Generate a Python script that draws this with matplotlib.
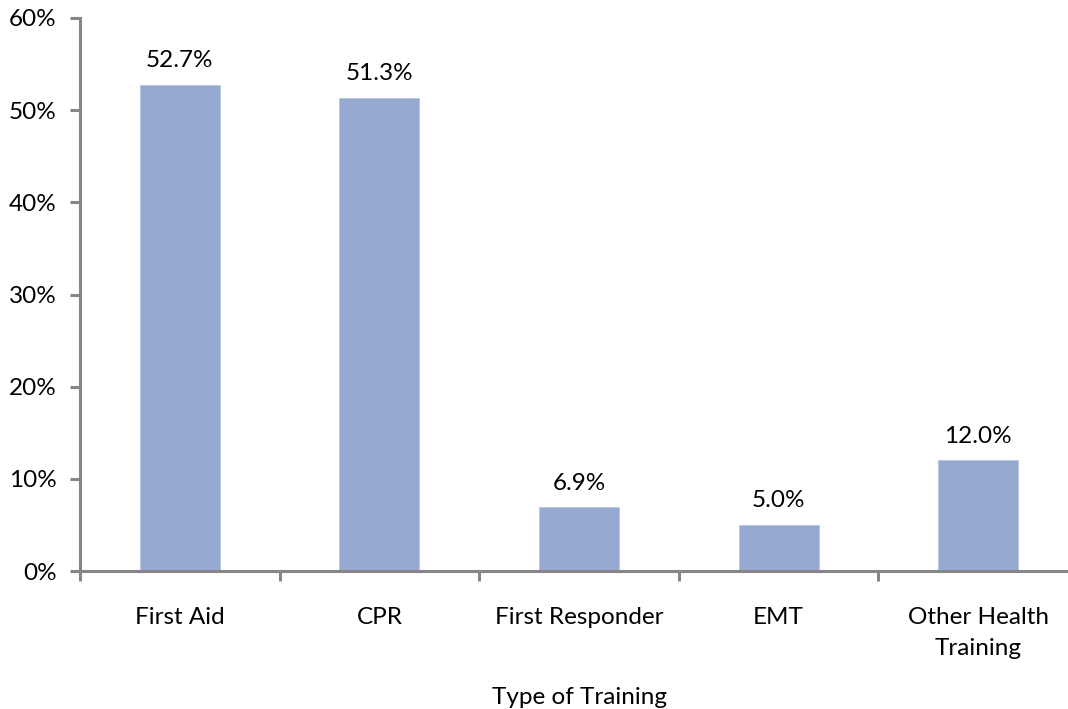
import matplotlib
matplotlib.use("Agg")
import matplotlib.pyplot as plt
from matplotlib.ticker import FuncFormatter, MultipleLocator

categories = ["First Aid", "CPR", "First Responder", "EMT", "Other Health\nTraining"]
values = [52.7, 51.3, 6.9, 5.0, 12.0]
value_labels = ["52.7%", "51.3%", "6.9%", "5.0%", "12.0%"]

plt.rcParams["font.family"] = ["Lato", "DejaVu Sans"]
FS = 17.5

fig = plt.figure(figsize=(10.68, 7.09), dpi=100)
ax = fig.add_axes([80 / 1068, 138 / 709, 998 / 1068, 553 / 709])

bar_color = "#95A9D1"
axis_color = "#868686"
x = list(range(len(categories)))
ax.bar(x, values, width=0.4, color=bar_color, edgecolor="#B7C6E2", linewidth=0.6)

for xi, v, lab in zip(x, values, value_labels):
    ax.annotate(lab, (xi, v), xytext=(0, 10), textcoords="offset points",
                ha="center", va="bottom", fontsize=FS)

ax.set_xlim(-0.5, len(categories) - 0.5)
ax.set_ylim(0, 60)
ax.yaxis.set_major_locator(MultipleLocator(10))
ax.yaxis.set_major_formatter(FuncFormatter(lambda v, _: f"{v:.0f}%"))

ax.set_xticks([i - 0.5 for i in range(len(categories) + 1)])
ax.set_xticklabels([])
ax.set_xticks(x, minor=True)
ax.set_xticklabels(categories, minor=True, fontsize=FS, linespacing=1.6)
ax.tick_params(axis="x", which="minor", length=0, pad=26)
ax.tick_params(axis="x", which="major", length=7, width=2.2, color=axis_color, direction="out")
ax.tick_params(axis="y", length=7, width=2.2, color=axis_color, direction="out", labelsize=FS, pad=10)

for side in ("top", "right"):
    ax.spines[side].set_visible(False)
for side in ("left", "bottom"):
    ax.spines[side].set_color(axis_color)
    ax.spines[side].set_linewidth(2.2)

ax.set_xlabel("Type of Training", fontsize=FS, labelpad=20)

fig.savefig("out.png", dpi=100)
